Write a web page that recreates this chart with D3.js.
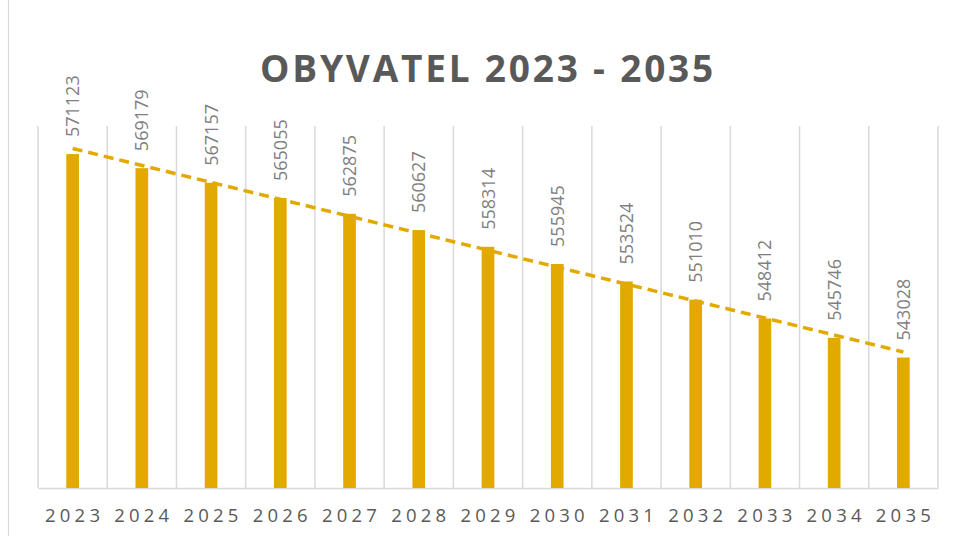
<!DOCTYPE html>
<html>
<head>
<meta charset="utf-8">
<script src="https://cdn.jsdelivr.net/npm/d3@7"></script>
<style>
  body { margin: 0; background: #fff; }
  svg { display: block; font-family: "Open Sans", "Liberation Sans", sans-serif; }
</style>
</head>
<body>
<div id="container"></div>
<script>
// data
var years = ["2023", "2024", "2025", "2026", "2027", "2028", "2029", "2030", "2031", "2032", "2033", "2034", "2035"];
var population = [571123, 569179, 567157, 565055, 562875, 560627, 558314, 555945, 553524, 551010, 548412, 545746, 543028];
var yDomain = [525000, 575000];
var chartTitle = "OBYVATEL 2023 - 2035";

var width = 957, height = 536;
var margin = { top: 126, right: 19, bottom: 48, left: 38 };

var barColor = "#E2AA00";
var gridColor = "#D9D9D9";

var svg = d3.select("#container").append("svg")
    .attr("width", width)
    .attr("height", height);

// thin frame line on the left edge
svg.append("line")
    .attr("x1", 8.5).attr("x2", 8.5)
    .attr("y1", 0).attr("y2", height)
    .style("stroke", "#D9D9D9")
    .style("stroke-width", 1.2);

var x = d3.scaleBand()
    .domain(years)
    .range([margin.left, width - margin.right]);

var y = d3.scaleLinear()
    .domain(yDomain)
    .range([height - margin.bottom, margin.top]);

// vertical gridlines between categories
var edges = years.map(function(d){ return x(d); }).concat([x(years[years.length - 1]) + x.bandwidth()]);
svg.selectAll("line.grid")
    .data(edges)
    .enter()
    .append("line")
    .attr("class", "grid")
    .attr("x1", function(d){ return d; })
    .attr("x2", function(d){ return d; })
    .attr("y1", margin.top)
    .attr("y2", height - margin.bottom)
    .style("stroke", gridColor)
    .style("stroke-width", 1.5);

// x axis
var xAxis = svg.append("g")
    .attr("transform", "translate(0," + (height - margin.bottom) + ")")
    .call(d3.axisBottom(x).tickSize(0).tickPadding(21));
xAxis.select(".domain").style("stroke", gridColor).style("stroke-width", 1.5);
xAxis.selectAll("text")
    .style("font-family", "'Open Sans', 'Liberation Sans', sans-serif")
    .style("font-size", "18.5px")
    .style("letter-spacing", "4.2px")
    .attr("dx", "2px")
    .style("fill", "#595959");

// bars
var barW = 12.7;
svg.selectAll("rect.bar")
    .data(population)
    .enter()
    .append("rect")
    .attr("class", "bar")
    .attr("x", function(d, i){ return x(years[i]) + x.bandwidth() / 2 - barW / 2; })
    .attr("y", function(d){ return y(d); })
    .attr("width", barW)
    .attr("height", function(d){ return y(yDomain[0]) - y(d); })
    .style("fill", barColor);

// linear trendline (least squares over the series)
var n = population.length;
var mx = d3.mean(d3.range(n));
var my = d3.mean(population);
var sxy = d3.sum(population, function(d, i){ return (i - mx) * (d - my); });
var sxx = d3.sum(d3.range(n), function(i){ return (i - mx) * (i - mx); });
var slope = sxy / sxx;
var intercept = my - slope * mx;
var trend = [0, n - 1].map(function(i){ return { year: years[i], value: intercept + slope * i }; });

svg.append("path")
    .datum(trend)
    .attr("d", d3.line()
        .x(function(d){ return x(d.year) + x.bandwidth() / 2; })
        .y(function(d){ return y(d.value); }))
    .style("fill", "none")
    .style("stroke", barColor)
    .style("stroke-width", 3.5)
    .style("stroke-dasharray", "10,6");

// rotated value labels
svg.selectAll("text.val")
    .data(population)
    .enter()
    .append("text")
    .attr("class", "val")
    .attr("transform", function(d, i){
        var cx = x(years[i]) + x.bandwidth() / 2 + 6.5;
        return "translate(" + cx + "," + (y(d) - 17) + ") rotate(-90)";
    })
    .style("font-size", "18px")
    .style("fill", "#7F7F7F")
    .text(function(d){ return d; });

// title
svg.append("text")
    .attr("x", 488)
    .attr("y", 82)
    .attr("text-anchor", "middle")
    .style("font-size", "37px")
    .style("font-weight", "bold")
    .style("letter-spacing", "2.8px")
    .style("fill", "#595959")
    .text(chartTitle);
</script>
</body>
</html>
